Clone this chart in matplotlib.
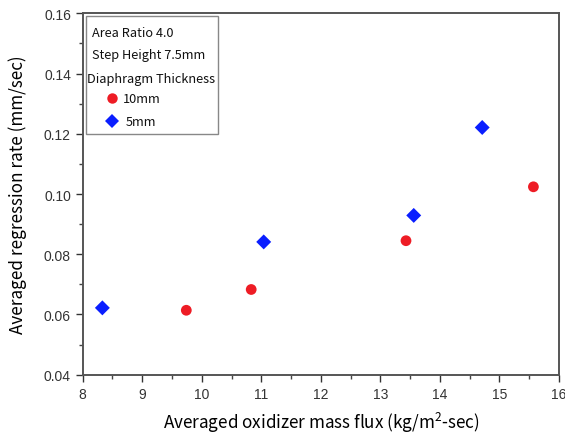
import matplotlib
matplotlib.use("Agg")
import matplotlib.pyplot as plt
from matplotlib.ticker import MultipleLocator
from matplotlib.patches import Rectangle

x_10mm = [9.74, 10.83, 13.43, 15.57]
y_10mm = [0.0614, 0.0683, 0.0845, 0.1024]
x_5mm = [8.33, 11.04, 13.56, 14.71]
y_5mm = [0.0622, 0.0841, 0.0929, 0.1221]
legend_title = ["Area Ratio 4.0", "Step Height 7.5mm", "Diaphragm Thickness"]
labels = ["10mm", "5mm"]

lab_font = ["Noto Sans CJK KR", "DejaVu Sans"]
tick_font = "Liberation Sans"
red = '#ee1c25'
blue = '#0a1eff'

plt.rcParams['mathtext.fontset'] = 'custom'
plt.rcParams['mathtext.rm'] = 'Noto Sans CJK KR'
plt.rcParams['mathtext.it'] = 'Noto Sans CJK KR'

fig = plt.figure(figsize=(5.65, 4.35), dpi=100)
ax = fig.add_axes([0.1464, 0.1363, 0.8430, 0.8307])

ax.scatter(x_10mm, y_10mm, s=60, marker='o', color=red, edgecolors='none', zorder=3)
ax.scatter(x_5mm, y_5mm, s=58, marker='D', color=blue, edgecolors='none', zorder=3)

ax.set_xlim(8, 16)
ax.set_ylim(0.04, 0.16)
ax.xaxis.set_major_locator(MultipleLocator(1))
ax.xaxis.set_minor_locator(MultipleLocator(0.5))
ax.yaxis.set_major_locator(MultipleLocator(0.02))
ax.yaxis.set_minor_locator(MultipleLocator(0.01))
ax.yaxis.set_major_formatter(plt.FuncFormatter(lambda v, p: f"{v:.2f}"))
ax.tick_params(which='both', direction='out', top=False, right=False, color='#444444')
ax.tick_params(which='major', length=5, width=1.0, labelsize=10, colors='#333333')
ax.tick_params(which='minor', length=3, width=1.0)
for lbl in ax.get_xticklabels() + ax.get_yticklabels():
    lbl.set_fontfamily(tick_font)
for s in ax.spines.values():
    s.set_linewidth(1.4)
    s.set_color('#555555')

ax.set_xlabel("Averaged oxidizer mass flux (kg/m$^{2}$-sec)", fontsize=12.3, family=lab_font, labelpad=6.5)
ax.set_ylabel("Averaged regression rate (mm/sec)", fontsize=12.3, family=lab_font, labelpad=12)

# legend box drawn in axes coordinates
tr = ax.transAxes
ax.add_patch(Rectangle((0.0063, 0.666), 0.278, 0.3265, transform=tr, fill=True,
                       facecolor='white', edgecolor='#888888', linewidth=1.0, zorder=4))
title_pos = [(0.0189, 0.9483), (0.0189, 0.8854), (0.0097, 0.821)]
for (tx, ty), t in zip(title_pos, legend_title):
    ax.text(tx, ty, t, transform=tr, fontsize=9.2, family=lab_font, va='center', ha='left',
            color='#111111', zorder=5)
ax.plot([0.0615], [0.7656], transform=tr, marker='o', markersize=7.5, color=red,
        markeredgewidth=0, linestyle='none', zorder=5, clip_on=False)
ax.plot([0.0615], [0.7020], transform=tr, marker='D', markersize=6.8, color=blue,
        markeredgewidth=0, linestyle='none', zorder=5, clip_on=False)
ax.text(0.0852, 0.7656, labels[0], transform=tr, fontsize=9.2, family=lab_font, va='center', ha='left',
        color='#111111', zorder=5)
ax.text(0.0894, 0.7020, labels[1], transform=tr, fontsize=9.2, family=lab_font, va='center', ha='left',
        color='#111111', zorder=5)

fig.savefig("out.png", dpi=100)
